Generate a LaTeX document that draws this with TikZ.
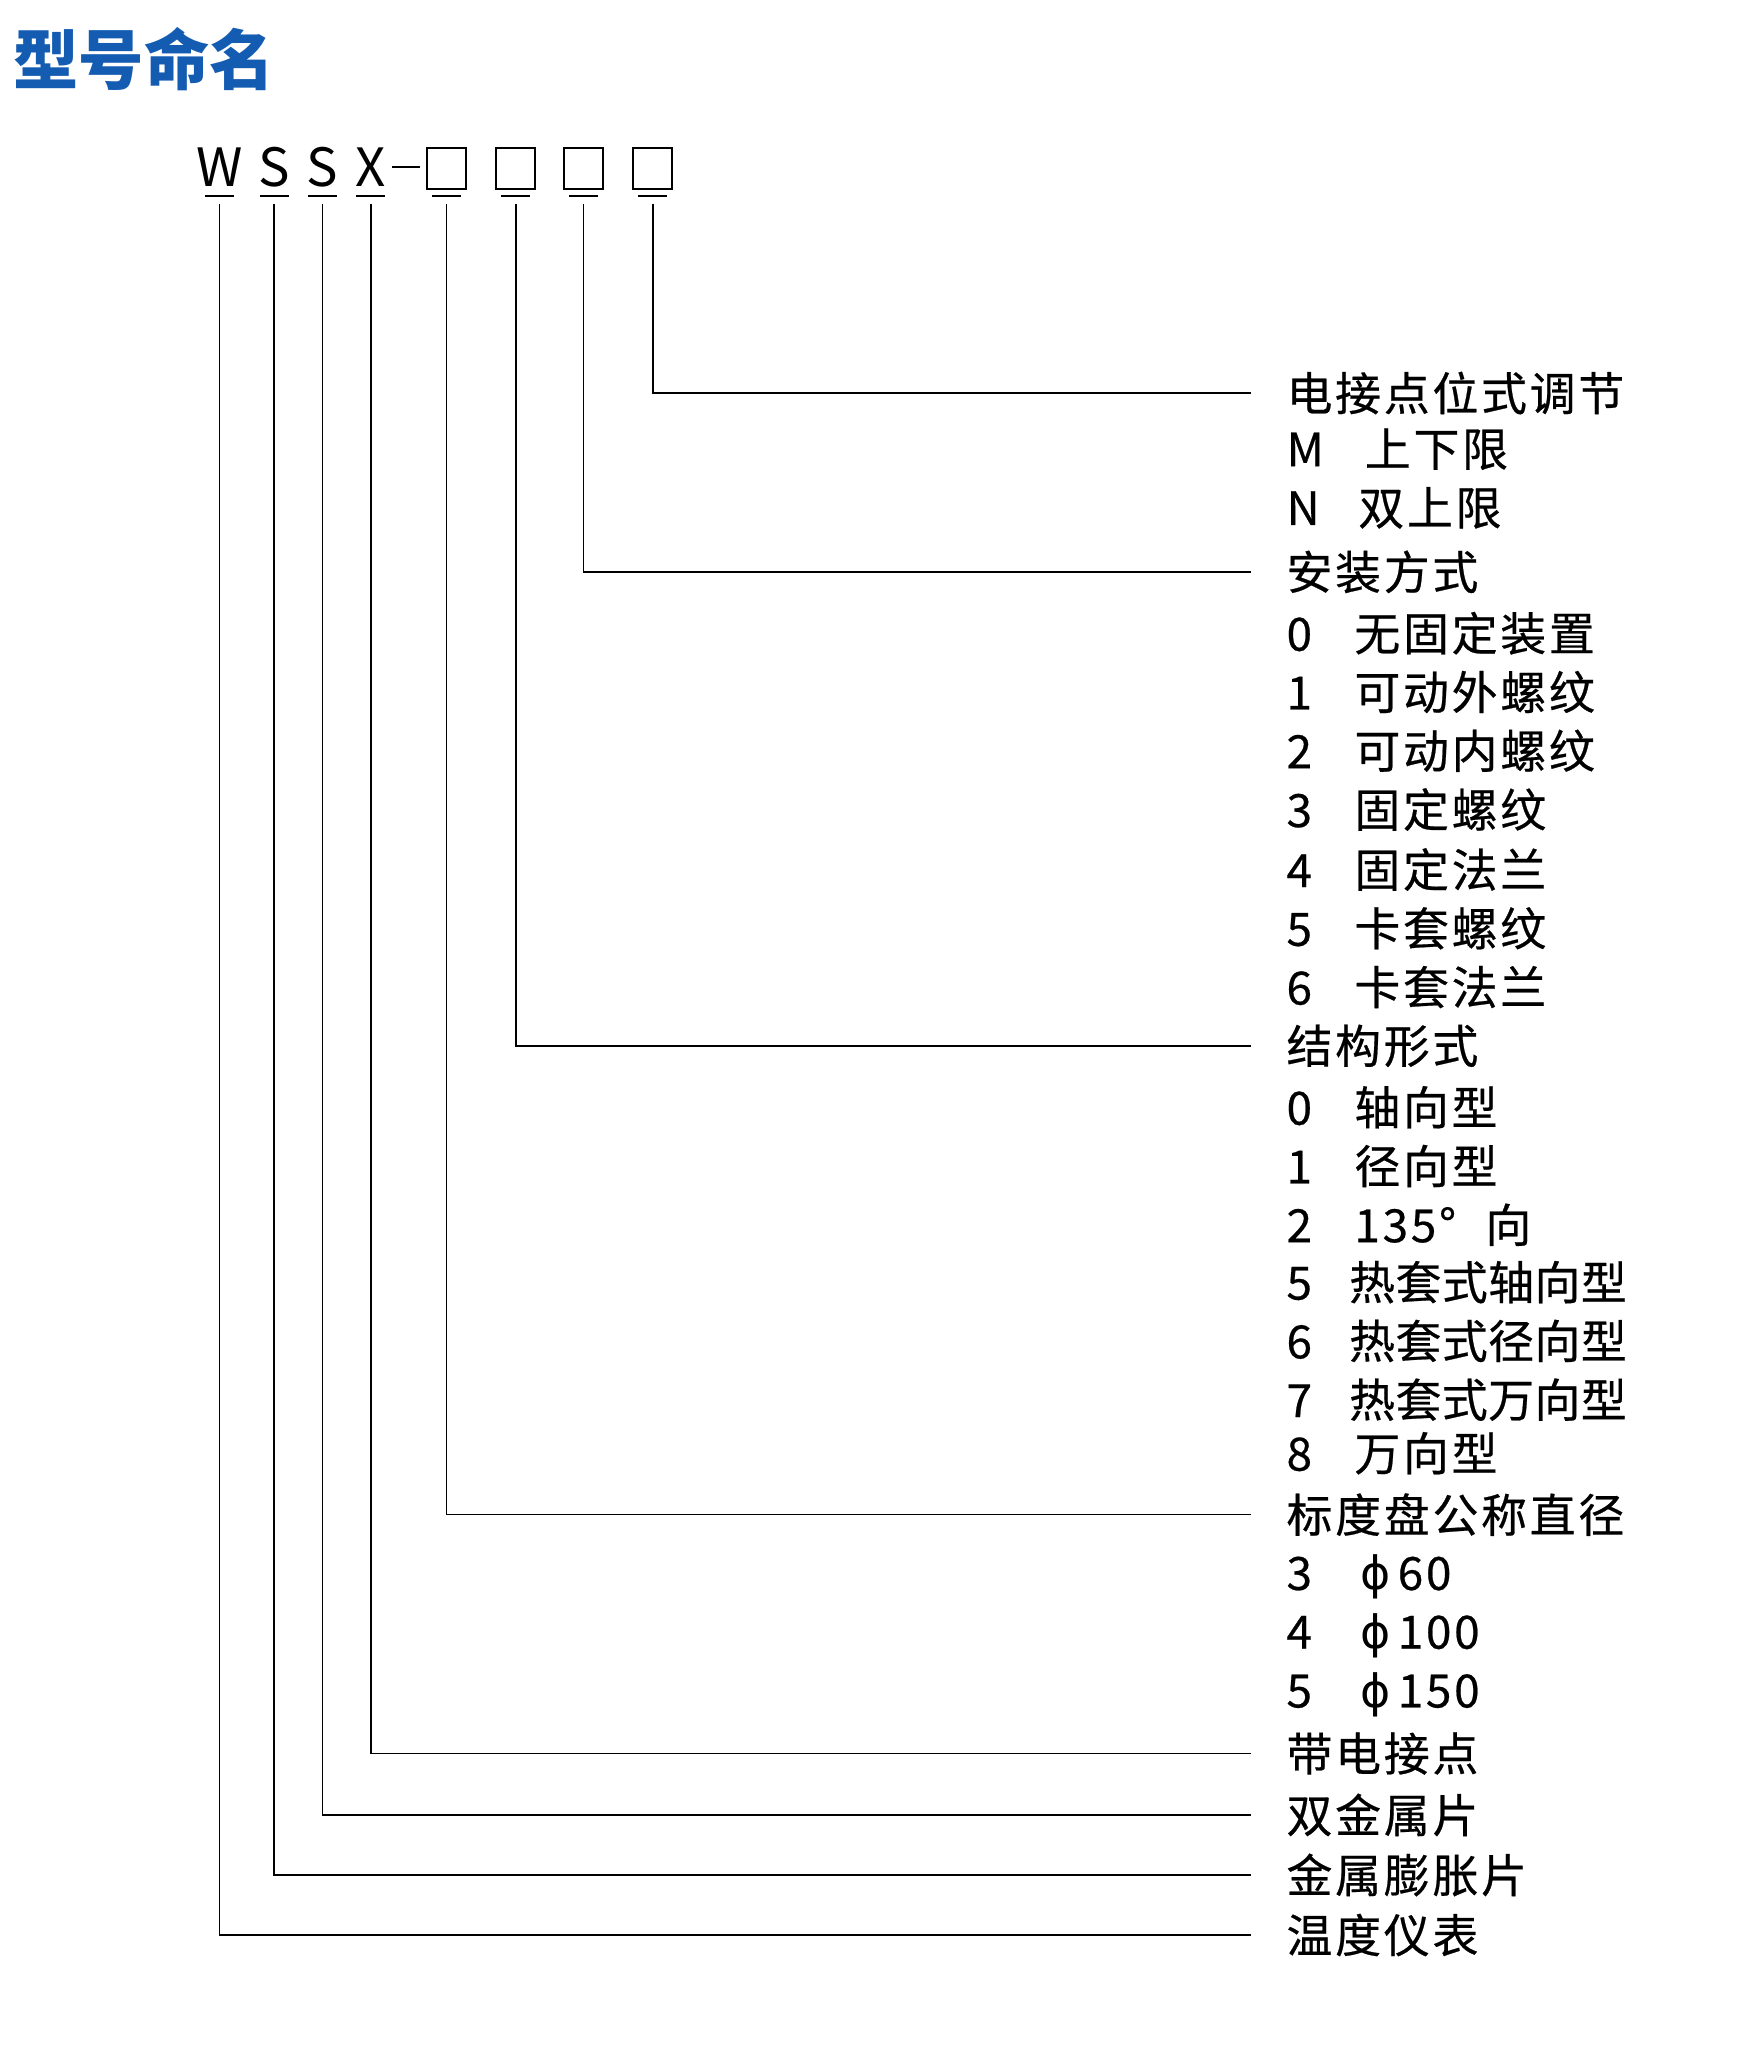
\documentclass[tikz,border=0pt]{standalone}
\usepackage{fontspec}
\setmainfont{Noto Sans CJK SC}[LetterSpace=6, FakeBold=0.5]
\newfontfamily\titlefont{Noto Sans CJK SC}[LetterSpace=0]
\newfontfamily\codefont{Noto Sans CJK SC}[LetterSpace=0]
\newfontfamily\symfont{DejaVu Sans}
\definecolor{titleblue}{RGB}{20,92,178}
\newcommand{\itm}[3][1.04cm]{\makebox[#1][l]{#2}#3}
\newcommand{\phis}{{\symfont ϕ}}
\begin{document}
\begin{tikzpicture}[x=0.02cm,y=-0.02cm,
		font=\fontsize{20}{24}\selectfont,
		conn/.style={line width=0.7pt},
		codeltr/.style={inner sep=0pt, font=\codefont\fontsize{23}{26}\selectfont},
		codebox/.style={draw, line width=0.9pt, minimum width=0.6cm, minimum height=0.64cm, inner sep=0pt},
		head/.style={anchor=west, inner xsep=0.54cm, inner ysep=0pt},
		item/.style={anchor=west, inner sep=0pt},
		tight/.style={font=\fontsize{20}{24}\selectfont\addfontfeature{LetterSpace=1}},
	]
	\useasboundingbox (0,0) rectangle (1343,1567);

	% title
	\node[anchor=west, inner sep=0pt, text=titleblue,
		font=\titlefont\bfseries\fontsize{28.5}{32}\selectfont] (title) at (10,45) {型号命名};

	% model code
	\node[codeltr] (w)  at (168,128) {W};
	\node[codeltr] (s1) at (210,128) {S};
	\node[codeltr] (s2) at (247,128) {S};
	\node[codeltr] (x)  at (284,128) {X};
	\node[inner sep=0pt] (dash) at (311,128) {\rule{0.42cm}{1pt}};
	\node[codebox] (b1) at (342,129) {};
	\node[codebox] (b2) at (395,129) {};
	\node[codebox] (b3) at (447,129) {};
	\node[codebox] (b4) at (500,129) {};
	\coordinate (ul) at (0,150);
	\coordinate (top) at (0,156);
	\foreach \n in {w,s1,s2,x,b1,b2,b3,b4}
		\draw[conn] ([xshift=-0.22cm]\n |- ul) -- ([xshift=0.22cm]\n |- ul);

	% headings
	\node[head] (hcontact) at (958,301)  {电接点位式调节};
	\node[head] (hmount)   at (958,438)  {安装方式};
	\node[head] (hform)    at (958,801)  {结构形式};
	\node[head] (hdial)    at (958,1160) {标度盘公称直径};
	\node[head] (hx)       at (958,1343) {带电接点};
	\node[head] (hbimetal) at (958,1390) {双金属片};
	\node[head] (hexp)     at (958,1436) {金属膨胀片};
	\node[head] (hthermo)  at (958,1482) {温度仪表};

	% connectors
	\draw[conn] (b4 |- top) |- (hcontact.west);
	\draw[conn] (b3 |- top) |- (hmount.west);
	\draw[conn] (b2 |- top) |- (hform.west);
	\draw[conn] (b1 |- top) |- (hdial.west);
	\draw[conn] (x |- top)  |- (hx.west);
	\draw[conn] (s2 |- top) |- (hbimetal.west);
	\draw[conn] (s1 |- top) |- (hexp.west);
	\draw[conn] (w |- top)  |- (hthermo.west);

	% contact options
	\node[item] (cm) at (985,344) {\itm[1.2cm]{M}{上下限}};
	\node[item] (cn) at (985,389) {\itm[1.1cm]{N}{双上限}};

	% mounting options
	\node[item] (m0) at (985,485) {\itm{0}{无固定装置}};
	\node[item] (m1) at (985,530) {\itm{1}{可动外螺纹}};
	\node[item] (m2) at (985,575) {\itm{2}{可动内螺纹}};
	\node[item] (m3) at (985,620) {\itm{3}{固定螺纹}};
	\node[item] (m4) at (985,666) {\itm{4}{固定法兰}};
	\node[item] (m5) at (985,711) {\itm{5}{卡套螺纹}};
	\node[item] (m6) at (985,756) {\itm{6}{卡套法兰}};

	% form options
	\node[item] (f0) at (985,848)  {\itm{0}{轴向型}};
	\node[item] (f1) at (985,893)  {\itm{1}{径向型}};
	\node[item] (f2) at (985,938)  {\itm{2}{135°\hspace{0.45cm}向}};
	\node[item, tight] (f5) at (985,982)  {\itm[0.96cm]{5}{热套式轴向型}};
	\node[item, tight] (f6) at (985,1027) {\itm[0.96cm]{6}{热套式径向型}};
	\node[item, tight] (f7) at (985,1072) {\itm[0.96cm]{7}{热套式万向型}};
	\node[item] (f8) at (985,1113) {\itm{8}{万向型}};

	% dial options
	\node[item] (d3) at (985,1208) {\itm[1.14cm]{3}{\phis\hspace{0.1cm}60}};
	\node[item] (d4) at (985,1253) {\itm[1.14cm]{4}{\phis\hspace{0.1cm}100}};
	\node[item] (d5) at (985,1298) {\itm[1.14cm]{5}{\phis\hspace{0.1cm}150}};
\end{tikzpicture}
\end{document}
